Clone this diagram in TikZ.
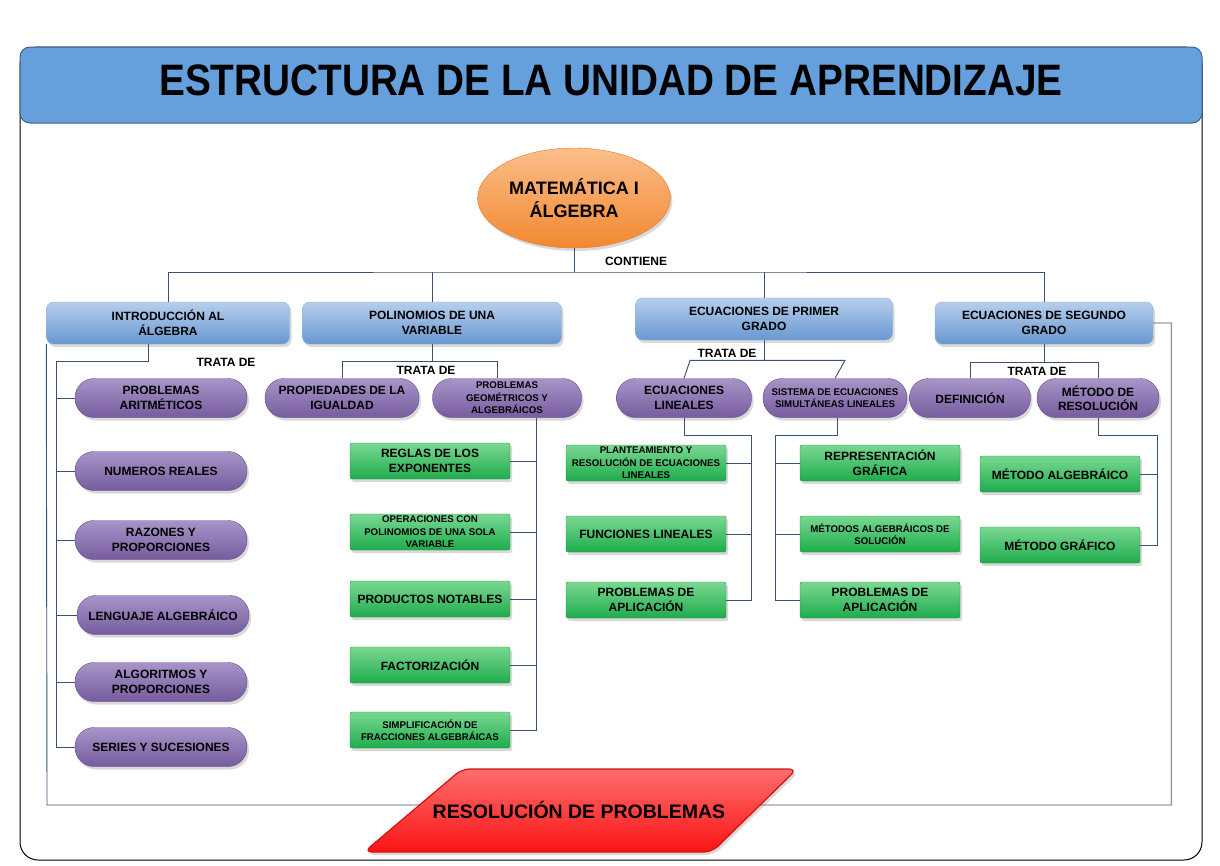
\documentclass[tikz,border=0pt]{standalone}
\usepackage{fontspec}
\setmainfont{Liberation Sans}
\usepackage{graphicx}
\usepackage{xcolor}
\usetikzlibrary{shapes.geometric,shadows}

\definecolor{cabecera}{RGB}{102,160,220}
\definecolor{cabeceraborde}{RGB}{60,95,140}
\definecolor{azulclaro}{RGB}{182,206,236}
\definecolor{azuloscuro}{RGB}{104,152,208}
\definecolor{azulborde}{RGB}{140,178,222}
\definecolor{moradoclaro}{RGB}{168,148,200}
\definecolor{moradooscuro}{RGB}{118,92,158}
\definecolor{moradoborde}{RGB}{100,75,140}
\definecolor{verdeclaro}{RGB}{122,216,146}
\definecolor{verdeoscuro}{RGB}{30,172,76}
\definecolor{verdeborde}{RGB}{28,148,66}
\definecolor{naranjaclaro}{RGB}{251,190,138}
\definecolor{naranjaoscuro}{RGB}{242,136,48}
\definecolor{naranjaborde}{RGB}{228,120,40}
\definecolor{rojoclaro}{RGB}{255,110,110}
\definecolor{rojooscuro}{RGB}{250,20,20}
\definecolor{rojoborde}{RGB}{215,15,15}
\definecolor{conector}{RGB}{58,82,112}

\begin{document}
\begin{tikzpicture}[x=1pt,y=-1pt]
        \tikzstyle{sombra}=[drop shadow={opacity=0.3,shadow xshift=2pt,shadow yshift=-3pt}]
        \tikzstyle{tema}=[rectangle,rounded corners=7pt,draw=azulborde,top color=azulclaro,bottom color=azuloscuro,
        minimum height=42pt,inner sep=2pt,align=center,font=\bfseries\fontsize{12}{15}\selectfont,sombra]
        \tikzstyle{pildora}=[rectangle,rounded corners=19pt,draw=moradoborde,top color=moradoclaro,bottom color=moradooscuro,
        minimum height=39pt,inner sep=1pt,align=center,font=\bfseries\fontsize{12}{14.5}\selectfont,sombra]
        \tikzstyle{caja}=[rectangle,rounded corners=2pt,draw=verdeborde,top color=verdeclaro,bottom color=verdeoscuro,
        minimum width=160pt,minimum height=36pt,inner sep=1pt,align=center,font=\bfseries\fontsize{12}{15}\selectfont,sombra]
        \tikzstyle{chico}=[font=\bfseries\fontsize{9.7}{12.5}\selectfont]
        \tikzstyle{etiqueta}=[font=\bfseries\fontsize{12}{14}\selectfont,inner sep=0pt]
        \tikzstyle{linea}=[draw=conector,line width=0.9pt]
        \useasboundingbox (0,0) rectangle (1220,865);
        % marco y cabecera
        \draw[black,line width=1pt,rounded corners=18pt] (20,47) rectangle (1202,860);
        \node at (611,85) [rectangle,rounded corners=10pt,draw=cabeceraborde,fill=cabecera,line width=1pt,
        minimum width=1182pt,minimum height=76pt] (cabecera) {};
        \node at (611,80) [font=\bfseries\fontsize{44}{44}\selectfont] (titulo) {\scalebox{0.88}[1]{ESTRUCTURA DE LA UNIDAD DE APRENDIZAJE}};
        % nodo central
        \node at (574,198) [ellipse,minimum width=192pt,minimum height=100pt,draw=naranjaborde,top color=naranjaclaro,
        bottom color=naranjaoscuro,align=center,font=\bfseries\fontsize{18}{23}\selectfont,sombra] (raiz) {MATEMÁTICA I\\ÁLGEBRA};
        \coordinate (bus) at (574,272);
        \draw[linea] (raiz) -- (bus);
        \node at (636,261) [etiqueta] (contiene) {CONTIENE};
        % temas
        \node at (168,323) [tema,minimum width=243pt] (tema1) {INTRODUCCIÓN AL\\ÁLGEBRA};
        \node at (432,323) [tema,minimum width=259pt] (tema2) {POLINOMIOS DE UNA\\VARIABLE};
        \node at (764,319) [tema,minimum width=257pt] (tema3) {ECUACIONES DE PRIMER\\GRADO};
        \node at (1044,323) [tema,minimum width=218pt] (tema4) {ECUACIONES DE SEGUNDO\\GRADO};
        \draw[linea] (tema1.north) |- (bus) -| (tema4.north);
        \draw[linea] (tema2.north) -- (tema2.north |- bus);
        \draw[linea] (tema3.north) -- (tema3.north |- bus);
        % introduccion al algebra
        \node at (161,398) [pildora,minimum width=172pt] (sub1) {PROBLEMAS\\ARITMÉTICOS};
        \node at (161,471) [pildora,minimum width=172pt] (sub2) {NUMEROS REALES};
        \node at (161,540) [pildora,minimum width=172pt] (sub3) {RAZONES Y\\PROPORCIONES};
        \node at (163,615) [pildora,minimum width=172pt] (sub4) {LENGUAJE ALGEBRÁICO};
        \node at (161,682) [pildora,minimum width=172pt] (sub5) {ALGORITMOS Y\\PROPORCIONES};
        \node at (161,747) [pildora,minimum width=172pt] (sub6) {SERIES Y SUCESIONES};
        \node at (226,362) [etiqueta] (trata1) {TRATA DE};
        \draw[linea] ([xshift=-20pt]tema1.south) -- ++(0,17) -| ([xshift=-18pt]sub6.west) -- (sub6.west);
        \draw[linea] (sub1.west) -- ++(-18,0);
        \draw[linea] (sub2.west) -- ++(-18,0);
        \draw[linea] (sub3.west) -- ++(-18,0);
        \draw[linea] (sub4.west) -- ++(-20,0);
        \draw[linea] (sub5.west) -- ++(-18,0);
        % polinomios
        \node at (342,398) [pildora,minimum width=154pt] (sub7) {PROPIEDADES DE LA\\IGUALDAD};
        \node at (507,398) [pildora,chico,minimum width=149pt] (sub8) {PROBLEMAS\\GEOMÉTRICOS Y\\ALGEBRÁICOS};
        \draw[linea] (tema2.south) -- ++(0,17) coordinate (c2);
        \draw[linea] (sub7.north) |- (c2) -| ([xshift=-10pt]sub8.north);
        \node at (426,370) [etiqueta] (trata2) {TRATA DE};
        \node at (430,461) [caja] (det1) {REGLAS DE LOS\\EXPONENTES};
        \node at (430,532) [caja,chico] (det2) {OPERACIONES CON\\POLINOMIOS DE UNA SOLA\\VARIABLE};
        \node at (430,599) [caja] (det3) {PRODUCTOS NOTABLES};
        \node at (430,665) [caja] (det4) {FACTORIZACIÓN};
        \node at (430,730) [caja,chico] (det5) {SIMPLIFICACIÓN DE\\FRACCIONES ALGEBRÁICAS};
        \draw[linea] ([xshift=29pt]sub8.south) |- (det5.east);
        \draw[linea] (det1.east) -- ++(26,0);
        \draw[linea] (det2.east) -- ++(26,0);
        \draw[linea] (det3.east) -- ++(26,0);
        \draw[linea] (det4.east) -- ++(26,0);
        % primer grado
        \node at (684,398) [pildora,minimum width=135pt] (sub9) {ECUACIONES\\LINEALES};
        \node at (835,398) [pildora,chico,minimum width=144pt] (sub10) {SISTEMA DE ECUACIONES\\SIMULTÁNEAS LINEALES};
        \draw[linea] (tema3.south) -- ++(0,20) coordinate (c3);
        \draw[linea] (sub9.north) -- ([xshift=6pt,yshift=18pt]sub9.north) -- ([xshift=10pt,yshift=18pt]sub10.north) -- (sub10.north);
        \node at (727,353) [etiqueta] (trata3) {TRATA DE};
        \node at (646,463) [caja,chico] (det6) {PLANTEAMIENTO Y\\RESOLUCIÓN DE ECUACIONES\\LINEALES};
        \node at (646,534) [caja] (det7) {FUNCIONES LINEALES};
        \node at (646,600) [caja] (det8) {PROBLEMAS DE\\APLICACIÓN};
        \draw[linea] (sub9.south) -- ++(0,18) -| ([xshift=25pt]det8.east) -- (det8.east);
        \draw[linea] (det6.east) -- ++(25,0);
        \draw[linea] (det7.east) -- ++(25,0);
        \node at (880,463) [caja] (det9) {REPRESENTACIÓN\\GRÁFICA};
        \node at (880,534) [caja,chico] (det10) {MÉTODOS ALGEBRÁICOS DE\\SOLUCIÓN};
        \node at (880,600) [caja] (det11) {PROBLEMAS DE\\APLICACIÓN};
        \draw[linea] ([xshift=2pt]sub10.south) -- ++(0,18) -| ([xshift=-24pt]det11.west) -- (det11.west);
        \draw[linea] (det9.west) -- ++(-24,0);
        \draw[linea] (det10.west) -- ++(-24,0);
        % segundo grado
        \node at (970,398) [pildora,minimum width=121pt] (sub11) {DEFINICIÓN};
        \node at (1098,398) [pildora,minimum width=122pt] (sub12) {MÉTODO DE\\RESOLUCIÓN};
        \draw[linea] (tema4.south) -- ++(0,18) coordinate (c4);
        \draw[linea] (sub11.north) |- (c4) -| (sub12.north);
        \node at (1037,371) [etiqueta] (trata4) {TRATA DE};
        \node at (1060,474) [caja] (det12) {MÉTODO ALGEBRÁICO};
        \node at (1060,545) [caja] (det13) {MÉTODO GRÁFICO};
        \draw[linea] (sub12.south) -- ++(0,18) -| ([xshift=17pt]det13.east) -- (det13.east);
        \draw[linea] (det12.east) -- ++(17,0);
        % lazo inferior
        \coordinate (fondo) at (47,805);
        \draw[linea] (tema4.east) -- ++(18,0) |- (fondo) -- (tema1.south west);
        \draw[draw=rojoborde,line width=1.2pt,top color=rojoclaro,bottom color=rojooscuro,rounded corners=8pt,sombra]
        (462,769) -- (797,769) -- (712,852) -- (364,852) -- cycle;
        \node at (579,810) [font=\bfseries\fontsize{19.5}{22}\selectfont] (resolucion) {RESOLUCIÓN DE PROBLEMAS};
      \end{tikzpicture}
\end{document}
